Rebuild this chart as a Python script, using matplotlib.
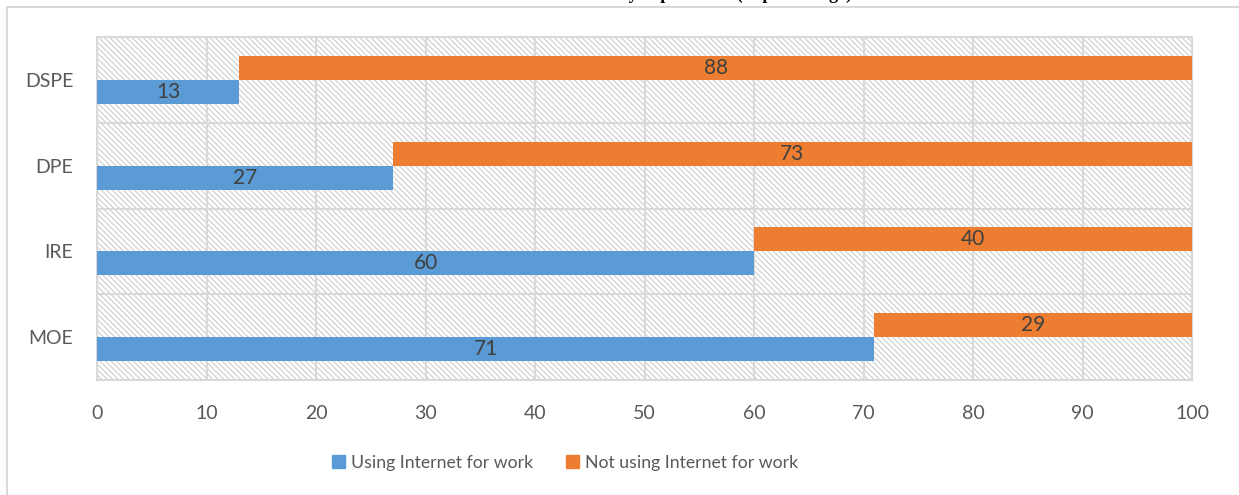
import matplotlib
matplotlib.use("Agg")
import matplotlib.pyplot as plt
from matplotlib.patches import Rectangle, Patch
import numpy as np

# departments, listed bottom to top
departments = ["MOE", "IRE", "DPE", "DSPE"]
using = [71, 60, 27, 13]
not_using = [29, 40, 73, 88]
x_ticks = [0, 10, 20, 30, 40, 50, 60, 70, 80, 90, 100]

BLUE = "#5B9BD5"
ORANGE = "#ED7D31"
GRID = "#D9D9D9"
TEXT = "#595959"
LABEL = "#404040"
HATCH = "#D2D2D2"

plt.rcParams["font.family"] = ["Lato", "DejaVu Sans"]
plt.rcParams["hatch.color"] = HATCH
plt.rcParams["hatch.linewidth"] = 0.9

fig = plt.figure(figsize=(12.39, 4.95), dpi=100)
W, H = 1239, 495
ax = fig.add_axes([97 / W, 1 - 380 / H, (1192 - 97) / W, (380 - 37) / H])

# chart frame
fig.patches.append(Rectangle((7 / W, -0.1), 1.2, 1 - 7 / H + 0.1,
                             transform=fig.transFigure, fill=False,
                             edgecolor=GRID, lw=1.5, zorder=0))

# title (top of chart area)
fig.text(640 / W, 1 + 1 / H, "Use of Internet for work by department (in percentage)",
         ha="center", va="baseline", fontsize=13, fontweight="bold",
         family="Liberation Serif", color="#000000")

# hatched plot background
ax.add_patch(Rectangle((0, 0), 1, 1, transform=ax.transAxes, facecolor="white",
                       edgecolor=HATCH, hatch="\\\\\\\\\\\\", lw=0, zorder=0))

y = np.arange(len(departments))
h = 0.28
ax.barh(y - h / 2, using, height=h, color=BLUE, zorder=3)
ax.barh(y + h / 2, not_using, left=using, height=h, color=ORANGE, zorder=3)

for yi, u, n in zip(y, using, not_using):
    ax.text(u / 2, yi - h / 2, str(u), ha="center", va="center",
            fontsize=15, color=LABEL, zorder=4)
    right = min(u + n, 100)
    ax.text((u + right) / 2, yi + h / 2, str(n), ha="center", va="center",
            fontsize=15, color=LABEL, zorder=4)

ax.set_xlim(0, 100)
ax.set_ylim(-0.5, len(departments) - 0.5)
ax.set_xticks(x_ticks)
ax.set_yticks(y)
ax.set_yticklabels(departments)
ax.set_yticks(np.arange(len(departments) - 1) + 0.5, minor=True)
ax.tick_params(axis="both", which="both", length=0, labelsize=14, labelcolor=TEXT)
ax.tick_params(axis="x", pad=18)
ax.tick_params(axis="y", pad=17)

ax.grid(axis="x", color=GRID, lw=1.5, zorder=1)
ax.grid(axis="y", which="minor", color=GRID, lw=1.5, zorder=1)
ax.set_axisbelow(True)
for s in ax.spines.values():
    s.set_color(GRID)
    s.set_linewidth(1.5)

handles = [Patch(color=BLUE, label="Using Internet for work"),
           Patch(color=ORANGE, label="Not using Internet for work")]
fig.legend(handles=handles, loc="center", bbox_to_anchor=(565 / W, 1 - 463 / H),
           ncol=2, frameon=False, fontsize=12.7, labelcolor=TEXT,
           handlelength=0.75, handleheight=0.75, handletextpad=0.3,
           columnspacing=1.9)

fig.savefig("out.png", dpi=100)
